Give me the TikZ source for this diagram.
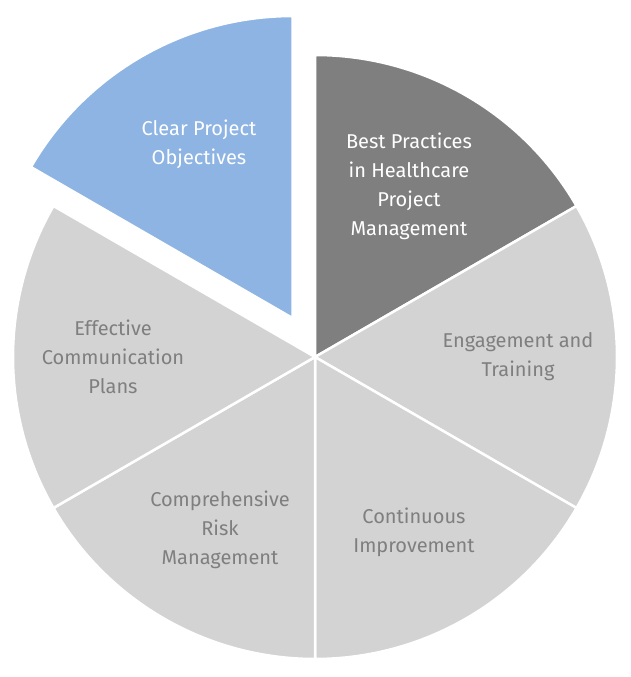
\documentclass[tikz,border=0pt]{standalone}
\usepackage{fontspec}
\setmainfont{Fira Sans}
\usetikzlibrary{calc}
\definecolor{dark}{HTML}{7F7F7F}
\definecolor{light}{HTML}{D3D3D3}
\definecolor{blue}{HTML}{8DB4E2}
\definecolor{txt}{HTML}{7F7F7F}
\begin{document}
\begin{tikzpicture}[x=1pt,y=1pt,
  slice/.style={draw=white,line width=2.5pt,line join=round},
  lbl/.style={align=center,font=\fontsize{20}{29}\selectfont},
  onlight/.style={lbl,text=txt},
  ondark/.style={lbl,text=white}]
\useasboundingbox (0,0) rectangle (631,677);
\coordinate (c) at (315,320);
\def\R{302}
\fill[dark,slice] (c) -- ++(30:\R) arc (30:90:\R) -- cycle;
\fill[light,slice] (c) -- ++(-30:\R) arc (-30:30:\R) -- cycle;
\fill[light,slice] (c) -- ++(-90:\R) arc (-90:-30:\R) -- cycle;
\fill[light,slice] (c) -- ++(-150:\R) arc (-150:-90:\R) -- cycle;
\fill[light,slice] (c) -- ++(150:\R) arc (150:210:\R) -- cycle;
\coordinate (ce) at ($(c)+(120:45)$);
\fill[blue,slice] (ce) -- ++(90:\R) arc (90:150:\R) -- cycle;
\node[ondark] (n1) at (409,491) {Best Practices\\in Healthcare\\Project\\Management};
\node[onlight] (n2) at (518,320) {Engagement and\\Training};
\node[onlight] (n3) at (414,145) {Continuous\\Improvement};
\node[onlight] (n4) at (220,147) {Comprehensive\\Risk\\Management};
\node[onlight] (n5) at (113,320) {Effective\\Communication\\Plans};
\node[ondark] (n6) at (199,533) {Clear Project\\Objectives};
\end{tikzpicture}
\end{document}
